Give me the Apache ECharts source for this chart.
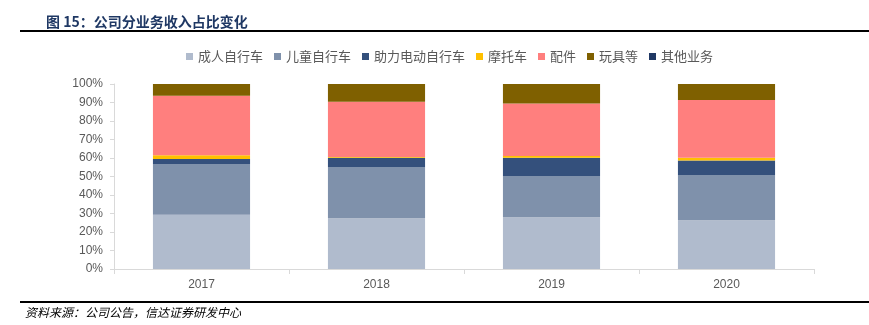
<!DOCTYPE html>
<html>
<head>
<meta charset="utf-8">
<script src="https://cdn.jsdelivr.net/npm/echarts@6/dist/echarts.min.js"></script>
<style>
html,body{margin:0;padding:0;background:#fff;}
#main{width:869px;height:325px;}
</style>
</head>
<body>
<div id="main"></div>
<script>
const categories = ['2017', '2018', '2019', '2020'];
const seriesNames = ['成人自行车', '儿童自行车', '助力电动自行车', '摩托车', '配件', '玩具等', '其他业务'];
const adultBikes = [29.3, 27.5, 28.0, 26.4];
const kidsBikes = [27.5, 27.7, 22.3, 24.4];
const eBikes = [2.7, 5.0, 9.9, 7.8];
const motorcycles = [2.0, 0.3, 0.9, 1.6];
const accessories = [32.2, 29.9, 28.4, 31.1];
const toys = [6.3, 9.6, 10.5, 8.7];
const others = [0, 0, 0, 0];
const yTicks = [0, 10, 20, 30, 40, 50, 60, 70, 80, 90, 100];

const colors = ['#B0BBCD', '#7F91AB', '#34507C', '#FFC000', '#FF7F7E', '#7F6000', '#203864'];
const dataSets = [adultBikes, kidsBikes, eBikes, motorcycles, accessories, toys, others];

const chart = echarts.init(document.getElementById('main'));
const font = '"Liberation Sans", "Noto Sans CJK SC", sans-serif';
chart.setOption({
  animation: false,
  color: colors,
  textStyle: { fontFamily: font },
  title: {
    text: '图 15：公司分业务收入占比变化',
    left: 41, top: 10,
    textStyle: { fontFamily: '"Noto Sans CJK SC", sans-serif', fontSize: 14, fontWeight: 'bold', color: '#1F3864' }
  },
  legend: {
    data: seriesNames,
    top: 45, left: 181,
    itemWidth: 7, itemHeight: 7, itemGap: 11,
    icon: 'rect',
    textStyle: { fontFamily: '"Noto Sans CJK SC", sans-serif', fontSize: 13, color: '#595959' }
  },
  grid: { left: 114, right: 55, top: 84, bottom: 56, containLabel: false },
  xAxis: {
    type: 'category',
    data: categories,
    axisLine: { lineStyle: { color: '#D9D9D9' } },
    axisTick: { show: true, length: 5, lineStyle: { color: '#D9D9D9' } },
    axisLabel: { color: '#595959', fontSize: 12, margin: 10, fontFamily: font }
  },
  yAxis: {
    type: 'value',
    min: 0, max: 100, interval: 10,
    axisLine: { show: true, lineStyle: { color: '#D9D9D9' } },
    axisTick: { show: true, length: 4, lineStyle: { color: '#D9D9D9' } },
    splitLine: { show: false },
    axisLabel: {
      color: '#595959', fontSize: 12, margin: 11, fontFamily: font,
      formatter: function (v) { return yTicks.indexOf(v) >= 0 ? v + '%' : ''; }
    }
  },
  graphic: [
    { type: 'rect', shape: { x: 20, y: 30, width: 849, height: 2 }, style: { fill: '#000' } },
    { type: 'rect', shape: { x: 20, y: 301, width: 849, height: 2 }, style: { fill: '#000' } },
    { type: 'text', left: 25, top: 306,
      style: { text: '资料来源：公司公告，信达证券研发中心', fill: '#000', fontSize: 12, fontStyle: 'italic', fontFamily: '"Noto Sans CJK SC", sans-serif' } }
  ],
  series: seriesNames.map(function (name, i) {
    return {
      name: name,
      type: 'bar',
      stack: 'total',
      barWidth: '55.5%',
      data: dataSets[i],
      itemStyle: { color: colors[i] }
    };
  })
});
</script>
</body>
</html>
